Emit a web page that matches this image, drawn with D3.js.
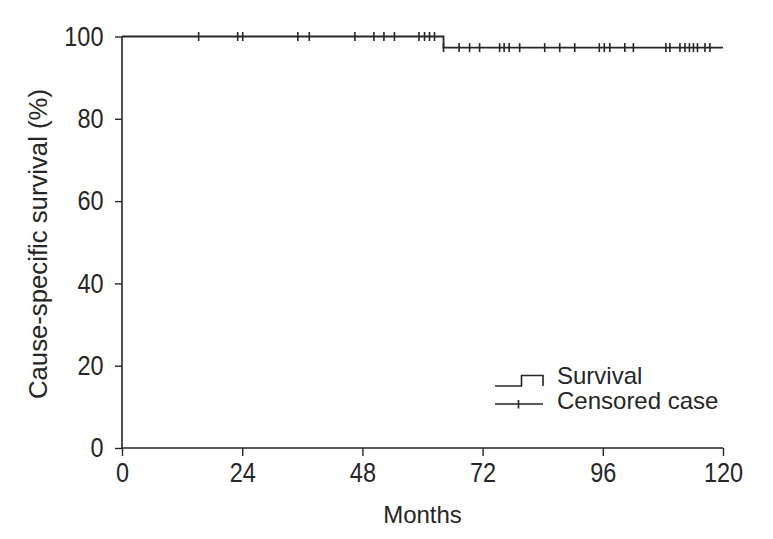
<!DOCTYPE html>
<html>
<head>
<meta charset="utf-8">
<script src="https://cdn.jsdelivr.net/npm/d3@7"></script>
<style>
  html, body { margin: 0; padding: 0; background: #fff; }
  svg { display: block; font-family: "Liberation Sans", Arial, Helvetica, sans-serif; }
</style>
</head>
<body>
<svg id="chart" width="773" height="539"></svg>
<script>
// ---- data ----
const xTicks = [0, 24, 48, 72, 96, 120];
const yTicks = [0, 20, 40, 60, 80, 100];
const eventTimes = [64.2];          // months at which survival drops
const survivalAfter = [97.3];       // survival (%) after each event
const censorTimes = [15.3, 23.1, 24.1, 35.1, 37.4, 46.5, 50.3, 52.3, 54.4, 59.3, 60.4, 61.4, 62.4,
  64.2, 67.3, 69.4, 71.4, 75.4, 76.3, 77.3, 79.4, 84.4, 87.4, 90.4, 95.3, 96.3, 97.4, 100.4, 102.1,
  108.6, 109.4, 111.4, 112.4, 113.3, 114.1, 114.9, 116.4, 117.4];
const followUpEnd = 120;
const legendLabels = ["Survival", "Censored case"];
const xTitle = "Months";
const yTitle = "Cause-specific survival (%)";

// ---- layout ----
const ink = "#262626";
const svg = d3.select("#chart");
const x = d3.scaleLinear().domain([0, 120]).range([122, 723]);
const y = d3.scaleLinear().domain([0, 100]).range([448, 36.5]);

function survAt(t) {
  let s = 100;
  eventTimes.forEach((e, i) => { if (t >= e) s = survivalAfter[i]; });
  return s;
}

// axes
const xAxis = svg.append("g").attr("transform", `translate(0,${y(0)})`)
  .call(d3.axisBottom(x).tickValues(xTicks).tickSize(8).tickPadding(7).tickFormat(d3.format("d")));
const yAxis = svg.append("g").attr("transform", `translate(${x(0)},0)`)
  .call(d3.axisLeft(y).tickValues(yTicks).tickSize(7).tickPadding(11).tickFormat(d3.format("d")));
[xAxis, yAxis].forEach(g => {
  g.select(".domain").attr("stroke", ink).attr("stroke-width", 1.6);
  g.selectAll(".tick line").attr("stroke", ink).attr("stroke-width", 1.4);
  g.selectAll(".tick text").attr("fill", ink).style("font-size", "27px");
});
xAxis.selectAll(".domain").attr("d", `M${x(0)},0H${x(120)}`);
yAxis.selectAll(".domain").attr("d", `M0,${y(100)}V${y(0)}`);
// slightly condensed tick digits, as in the reference
xAxis.selectAll(".tick text").attr("transform", "scale(0.87,1)");
yAxis.selectAll(".tick text").each(function () {
  const t = d3.select(this);
  t.attr("x", 0).attr("transform", "translate(-18.5,0) scale(0.87,1)");
});

// titles
svg.append("text").attr("x", (x(0) + x(120)) / 2).attr("y", 523)
  .attr("text-anchor", "middle").attr("fill", ink).style("font-size", "24px").text(xTitle);
svg.append("text").attr("transform", `translate(47,244) rotate(-90)`)
  .attr("text-anchor", "middle").attr("fill", ink).style("font-size", "25px")
  .attr("textLength", 310).attr("lengthAdjust", "spacingAndGlyphs").text(yTitle);

// KM step line
const pts = [[0, 100]];
eventTimes.forEach((e, i) => { pts.push([e, i === 0 ? 100 : survivalAfter[i - 1]]); pts.push([e, survivalAfter[i]]); });
pts.push([followUpEnd, survivalAfter[survivalAfter.length - 1]]);
svg.append("path")
  .attr("d", d3.line().x(d => x(d[0])).y(d => y(d[1]))(pts))
  .attr("fill", "none").attr("stroke", ink).attr("stroke-width", 1.8);

// censor ticks
svg.append("g").selectAll("line").data(censorTimes).join("line")
  .attr("x1", d => x(d)).attr("x2", d => x(d))
  .attr("y1", d => y(survAt(d)) - 4.5).attr("y2", d => y(survAt(d)) + 4.5)
  .attr("stroke", ink).attr("stroke-width", 1.6);

// legend
const lg = svg.append("g");
lg.append("path").attr("d", "M495,386H521.5V375.5H543V386")
  .attr("fill", "none").attr("stroke", ink).attr("stroke-width", 1.6);
lg.append("path").attr("d", "M495,404H543M518.5,400V408.5")
  .attr("fill", "none").attr("stroke", ink).attr("stroke-width", 1.6);
lg.append("text").attr("x", 557).attr("y", 384).attr("fill", ink).style("font-size", "24px").text(legendLabels[0]);
lg.append("text").attr("x", 557).attr("y", 408.5).attr("fill", ink).style("font-size", "24px").text(legendLabels[1]);
</script>
</body>
</html>
